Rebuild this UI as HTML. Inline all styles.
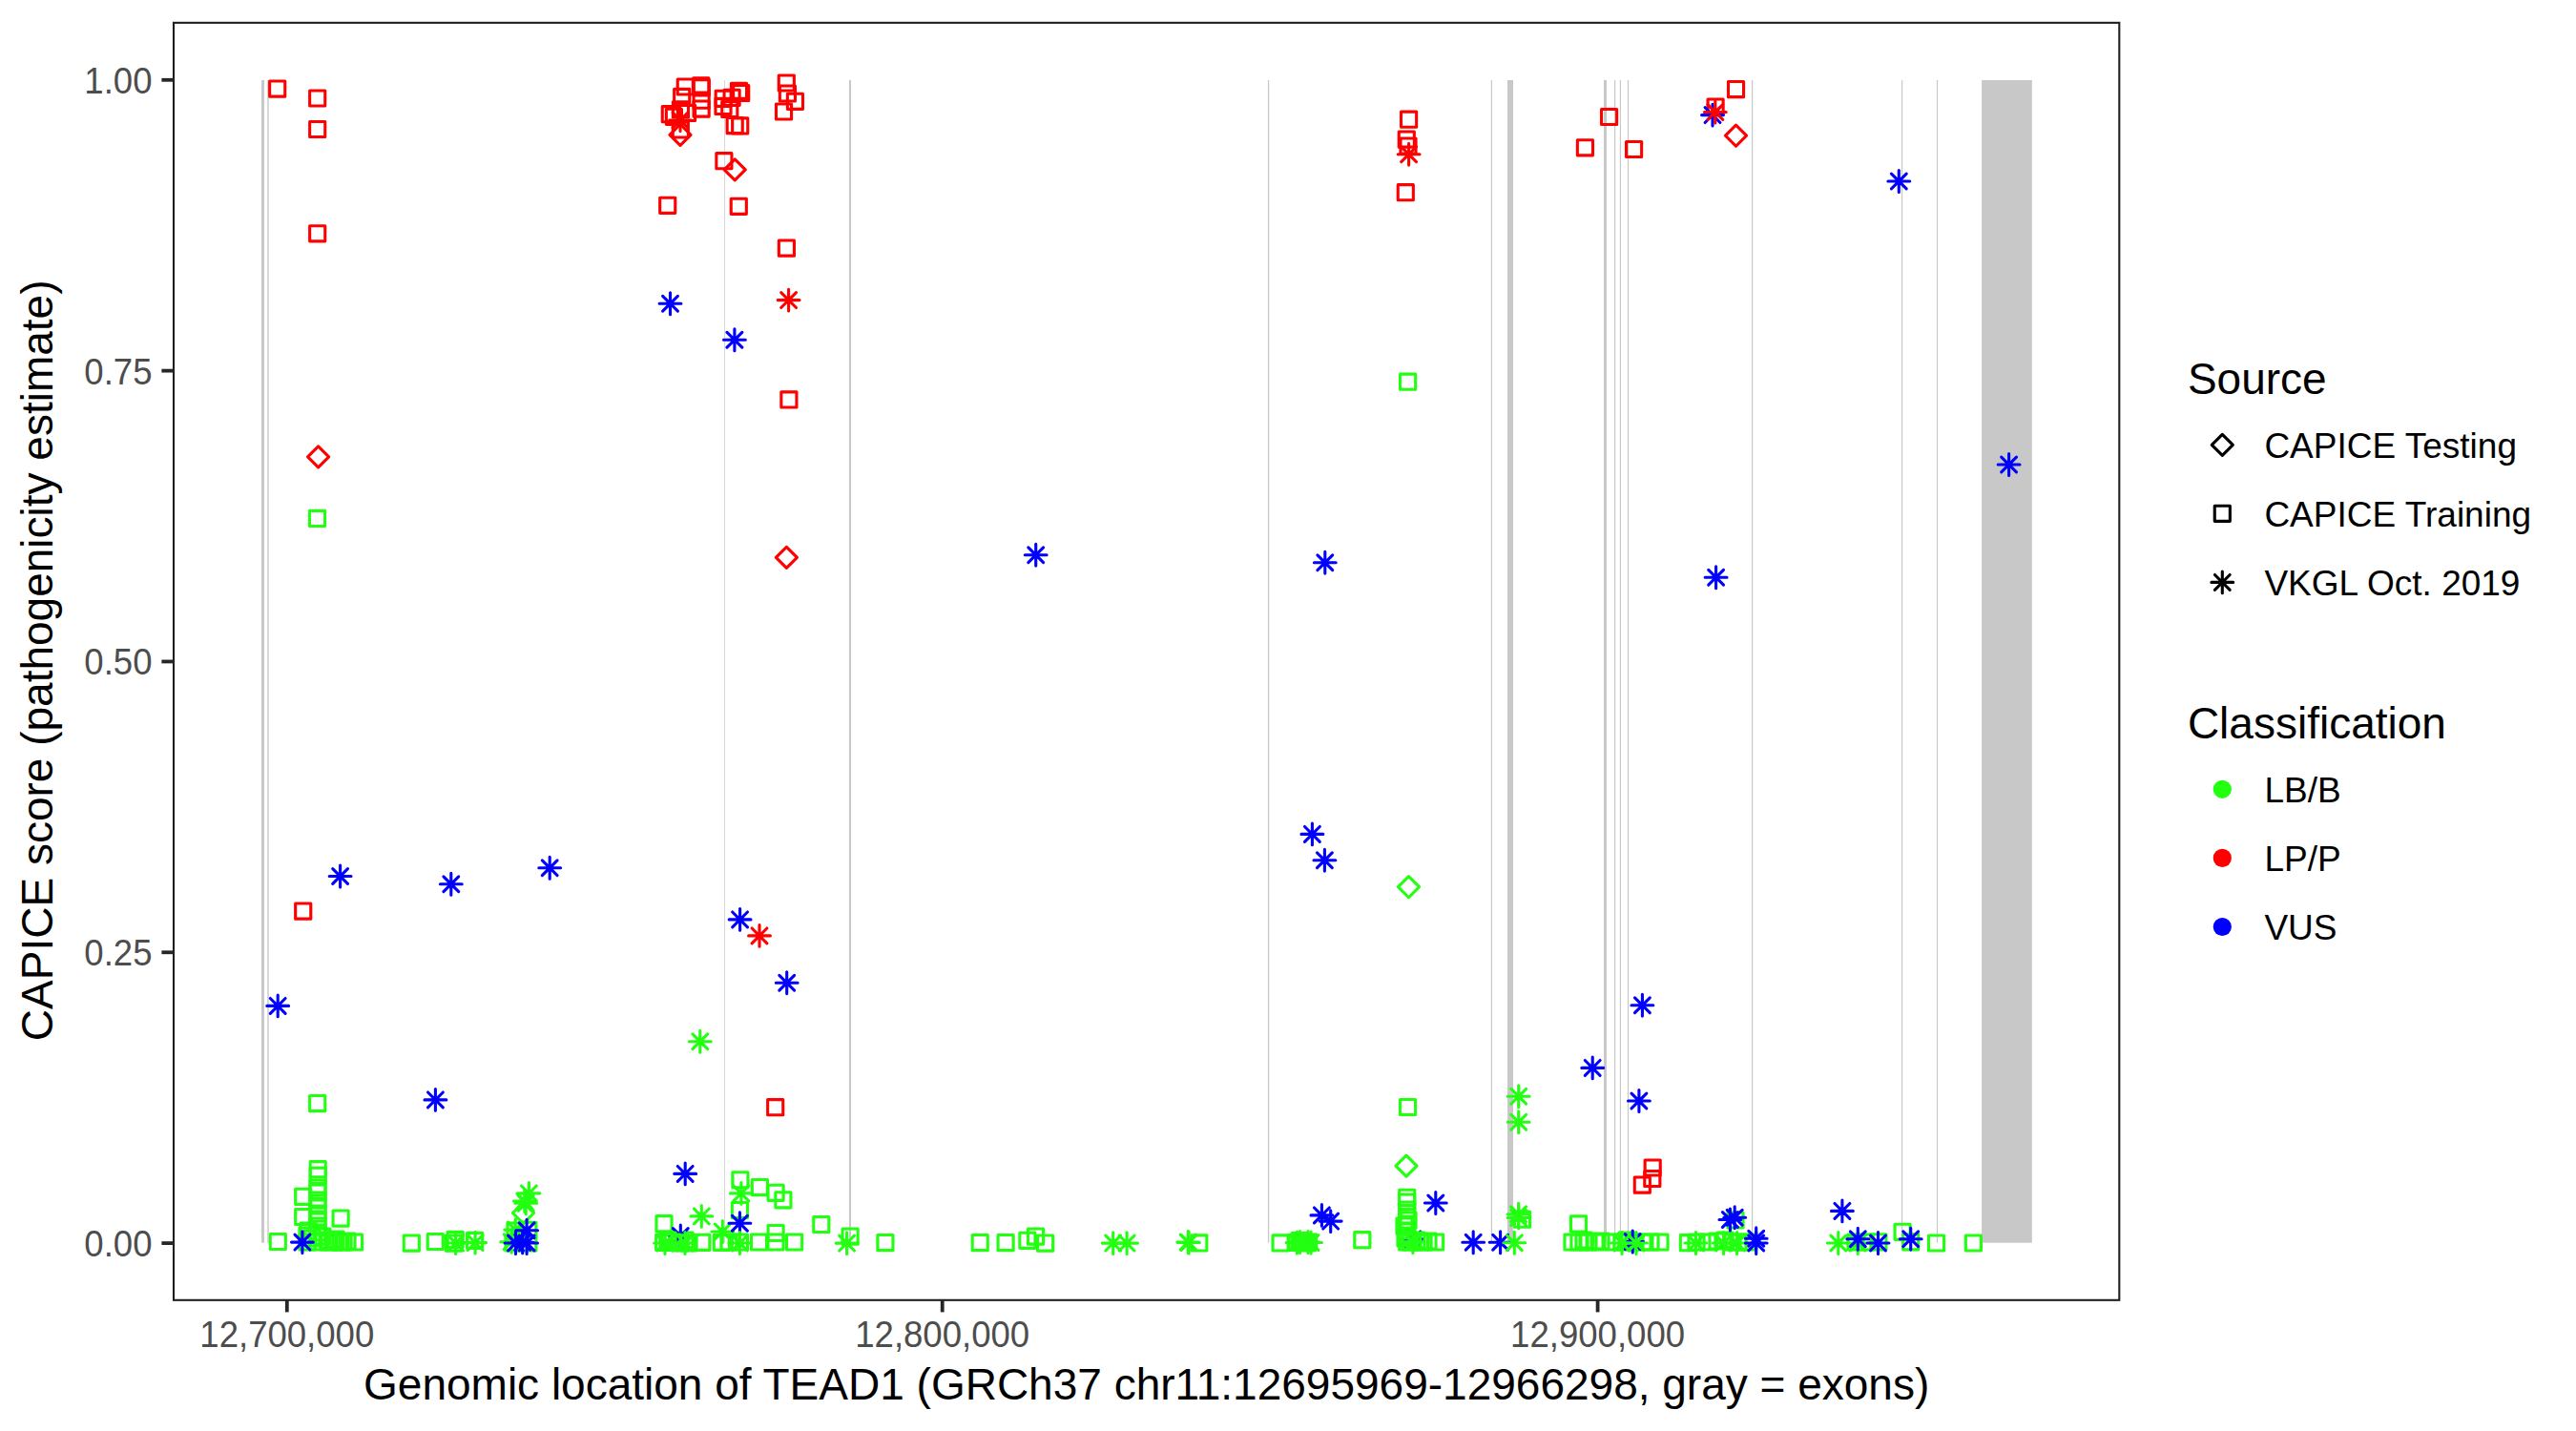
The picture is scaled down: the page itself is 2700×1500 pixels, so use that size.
<!DOCTYPE html>
<html><head><meta charset="utf-8"><style>html,body{margin:0;padding:0;background:#fff;overflow:hidden}svg{display:block}</style></head><body>
<svg width="2700" height="1500" viewBox="0 0 2700 1500">
<rect x="0" y="0" width="2700" height="1500" fill="#FFFFFF"/>
<rect x="274.00" y="84.0" width="3.00" height="1218.70" fill="#C8C8C8"/>
<rect x="280.30" y="84.0" width="1.40" height="1218.70" fill="#C8C8C8"/>
<rect x="759.05" y="84.0" width="0.70" height="1218.70" fill="#C8C8C8"/>
<rect x="889.90" y="84.0" width="2.10" height="1218.70" fill="#C8C8C8"/>
<rect x="1328.90" y="84.0" width="1.30" height="1218.70" fill="#C8C8C8"/>
<rect x="1562.80" y="84.0" width="1.20" height="1218.70" fill="#C8C8C8"/>
<rect x="1580.00" y="84.0" width="6.00" height="1218.70" fill="#C8C8C8"/>
<rect x="1681.00" y="84.0" width="3.00" height="1218.70" fill="#C8C8C8"/>
<rect x="1692.00" y="84.0" width="1.20" height="1218.70" fill="#C8C8C8"/>
<rect x="1697.80" y="84.0" width="1.20" height="1218.70" fill="#C8C8C8"/>
<rect x="1705.90" y="84.0" width="1.20" height="1218.70" fill="#C8C8C8"/>
<rect x="1836.00" y="84.0" width="1.20" height="1218.70" fill="#C8C8C8"/>
<rect x="1993.00" y="84.0" width="1.20" height="1218.70" fill="#C8C8C8"/>
<rect x="2029.90" y="84.0" width="1.20" height="1218.70" fill="#C8C8C8"/>
<rect x="2077.10" y="84.0" width="52.70" height="1218.70" fill="#C8C8C8"/>
<g fill="none" stroke-width="3.1" stroke-linejoin="round" stroke-linecap="round">
<rect x="282.65" y="85.05" width="16.10" height="16.10" stroke="#FF0000"/>
<rect x="324.65" y="94.95" width="16.10" height="16.10" stroke="#FF0000"/>
<rect x="324.65" y="127.45" width="16.10" height="16.10" stroke="#FF0000"/>
<rect x="324.65" y="236.75" width="16.10" height="16.10" stroke="#FF0000"/>
<rect x="710.25" y="82.95" width="16.10" height="16.10" stroke="#FF0000"/>
<rect x="726.75" y="81.75" width="16.10" height="16.10" stroke="#FF0000"/>
<rect x="727.25" y="83.75" width="16.10" height="16.10" stroke="#FF0000"/>
<rect x="706.65" y="93.35" width="16.10" height="16.10" stroke="#FF0000"/>
<rect x="727.05" y="97.15" width="16.10" height="16.10" stroke="#FF0000"/>
<rect x="727.05" y="106.05" width="16.10" height="16.10" stroke="#FF0000"/>
<rect x="694.25" y="111.65" width="16.10" height="16.10" stroke="#FF0000"/>
<rect x="698.35" y="114.25" width="16.10" height="16.10" stroke="#FF0000"/>
<rect x="705.35" y="106.85" width="16.10" height="16.10" stroke="#FF0000"/>
<rect x="712.45" y="110.35" width="16.10" height="16.10" stroke="#FF0000"/>
<rect x="705.25" y="127.95" width="16.10" height="16.10" stroke="#FF0000"/>
<path d="M705.10 118.10L720.90 133.90M705.10 133.90L720.90 118.10M701.60 126.00L724.40 126.00M713.00 114.60L713.00 137.40" stroke="#FF0000"/>
<path d="M701.95 141.30L713.00 130.25L724.05 141.30L713.00 152.35Z" stroke="#FF0000"/>
<rect x="766.45" y="87.25" width="16.10" height="16.10" stroke="#FF0000"/>
<rect x="768.65" y="89.45" width="16.10" height="16.10" stroke="#FF0000"/>
<rect x="750.15" y="95.25" width="16.10" height="16.10" stroke="#FF0000"/>
<rect x="759.05" y="94.25" width="16.10" height="16.10" stroke="#FF0000"/>
<rect x="749.95" y="103.35" width="16.10" height="16.10" stroke="#FF0000"/>
<rect x="756.75" y="106.35" width="16.10" height="16.10" stroke="#FF0000"/>
<rect x="762.15" y="123.55" width="16.10" height="16.10" stroke="#FF0000"/>
<rect x="767.65" y="123.85" width="16.10" height="16.10" stroke="#FF0000"/>
<rect x="816.25" y="78.95" width="16.10" height="16.10" stroke="#FF0000"/>
<rect x="817.35" y="89.95" width="16.10" height="16.10" stroke="#FF0000"/>
<rect x="825.35" y="98.25" width="16.10" height="16.10" stroke="#FF0000"/>
<rect x="813.45" y="108.95" width="16.10" height="16.10" stroke="#FF0000"/>
<rect x="691.65" y="207.25" width="16.10" height="16.10" stroke="#FF0000"/>
<rect x="750.85" y="160.65" width="16.10" height="16.10" stroke="#FF0000"/>
<path d="M759.15 177.90L770.20 166.85L781.25 177.90L770.20 188.95Z" stroke="#FF0000"/>
<rect x="766.25" y="208.25" width="16.10" height="16.10" stroke="#FF0000"/>
<rect x="816.35" y="252.05" width="16.10" height="16.10" stroke="#FF0000"/>
<path d="M694.60 310.40L710.40 326.20M694.60 326.20L710.40 310.40M691.10 318.30L713.90 318.30M702.50 306.90L702.50 329.70" stroke="#0000FF"/>
<path d="M818.70 306.70L834.50 322.50M818.70 322.50L834.50 306.70M815.20 314.60L838.00 314.60M826.60 303.20L826.60 326.00" stroke="#FF0000"/>
<path d="M762.00 348.40L777.80 364.20M762.00 364.20L777.80 348.40M758.50 356.30L781.30 356.30M769.90 344.90L769.90 367.70" stroke="#0000FF"/>
<rect x="818.85" y="410.85" width="16.10" height="16.10" stroke="#FF0000"/>
<path d="M813.35 584.40L824.40 573.35L835.45 584.40L824.40 595.45Z" stroke="#FF0000"/>
<path d="M322.55 478.90L333.60 467.85L344.65 478.90L333.60 489.95Z" stroke="#FF0000"/>
<rect x="324.45" y="535.35" width="16.10" height="16.10" stroke="#22FF11"/>
<path d="M348.70 910.60L364.50 926.40M348.70 926.40L364.50 910.60M345.20 918.50L368.00 918.50M356.60 907.10L356.60 929.90" stroke="#0000FF"/>
<path d="M464.90 918.90L480.70 934.70M464.90 934.70L480.70 918.90M461.40 926.80L484.20 926.80M472.80 915.40L472.80 938.20" stroke="#0000FF"/>
<path d="M568.30 901.90L584.10 917.70M568.30 917.70L584.10 901.90M564.80 909.80L587.60 909.80M576.20 898.40L576.20 921.20" stroke="#0000FF"/>
<rect x="309.65" y="947.05" width="16.10" height="16.10" stroke="#FF0000"/>
<path d="M283.30 1046.50L299.10 1062.30M283.30 1062.30L299.10 1046.50M279.80 1054.40L302.60 1054.40M291.20 1043.00L291.20 1065.80" stroke="#0000FF"/>
<rect x="324.65" y="1148.55" width="16.10" height="16.10" stroke="#22FF11"/>
<path d="M448.50 1145.00L464.30 1160.80M448.50 1160.80L464.30 1145.00M445.00 1152.90L467.80 1152.90M456.40 1141.50L456.40 1164.30" stroke="#0000FF"/>
<path d="M767.70 956.00L783.50 971.80M767.70 971.80L783.50 956.00M764.20 963.90L787.00 963.90M775.60 952.50L775.60 975.30" stroke="#0000FF"/>
<path d="M788.10 973.00L803.90 988.80M788.10 988.80L803.90 973.00M784.60 980.90L807.40 980.90M796.00 969.50L796.00 992.30" stroke="#FF0000"/>
<path d="M816.80 1022.30L832.60 1038.10M816.80 1038.10L832.60 1022.30M813.30 1030.20L836.10 1030.20M824.70 1018.80L824.70 1041.60" stroke="#0000FF"/>
<path d="M725.90 1083.90L741.70 1099.70M725.90 1099.70L741.70 1083.90M722.40 1091.80L745.20 1091.80M733.80 1080.40L733.80 1103.20" stroke="#22FF11"/>
<rect x="1468.55" y="117.15" width="16.10" height="16.10" stroke="#FF0000"/>
<rect x="1466.25" y="138.05" width="16.10" height="16.10" stroke="#FF0000"/>
<rect x="1467.95" y="144.95" width="16.10" height="16.10" stroke="#FF0000"/>
<path d="M1468.70 153.80L1484.50 169.60M1468.70 169.60L1484.50 153.80M1465.20 161.70L1488.00 161.70M1476.60 150.30L1476.60 173.10" stroke="#FF0000"/>
<rect x="1465.25" y="193.65" width="16.10" height="16.10" stroke="#FF0000"/>
<rect x="1467.55" y="392.15" width="16.10" height="16.10" stroke="#22FF11"/>
<path d="M1077.80 573.80L1093.60 589.60M1077.80 589.60L1093.60 573.80M1074.30 581.70L1097.10 581.70M1085.70 570.30L1085.70 593.10" stroke="#0000FF"/>
<path d="M1380.90 581.80L1396.70 597.60M1380.90 597.60L1396.70 581.80M1377.40 589.70L1400.20 589.70M1388.80 578.30L1388.80 601.10" stroke="#0000FF"/>
<path d="M1367.50 866.50L1383.30 882.30M1367.50 882.30L1383.30 866.50M1364.00 874.40L1386.80 874.40M1375.40 863.00L1375.40 885.80" stroke="#0000FF"/>
<path d="M1380.50 893.80L1396.30 909.60M1380.50 909.60L1396.30 893.80M1377.00 901.70L1399.80 901.70M1388.40 890.30L1388.40 913.10" stroke="#0000FF"/>
<path d="M1465.45 929.70L1476.50 918.65L1487.55 929.70L1476.50 940.75Z" stroke="#22FF11"/>
<rect x="1653.35" y="146.75" width="16.10" height="16.10" stroke="#FF0000"/>
<rect x="1678.55" y="114.45" width="16.10" height="16.10" stroke="#FF0000"/>
<rect x="1704.55" y="148.45" width="16.10" height="16.10" stroke="#FF0000"/>
<rect x="1790.05" y="103.95" width="16.10" height="16.10" stroke="#FF0000"/>
<rect x="1811.45" y="85.55" width="16.10" height="16.10" stroke="#FF0000"/>
<path d="M1808.45 142.20L1819.50 131.15L1830.55 142.20L1819.50 153.25Z" stroke="#FF0000"/>
<path d="M1787.10 112.70L1802.90 128.50M1787.10 128.50L1802.90 112.70M1783.60 120.60L1806.40 120.60M1795.00 109.20L1795.00 132.00" stroke="#0000FF"/>
<path d="M1789.90 109.60L1805.70 125.40M1789.90 125.40L1805.70 109.60M1786.40 117.50L1809.20 117.50M1797.80 106.10L1797.80 128.90" stroke="#FF0000"/>
<path d="M1982.40 182.10L1998.20 197.90M1982.40 197.90L1998.20 182.10M1978.90 190.00L2001.70 190.00M1990.30 178.60L1990.30 201.40" stroke="#0000FF"/>
<path d="M2097.70 479.10L2113.50 494.90M2097.70 494.90L2113.50 479.10M2094.20 487.00L2117.00 487.00M2105.60 475.60L2105.60 498.40" stroke="#0000FF"/>
<path d="M1790.70 597.40L1806.50 613.20M1790.70 613.20L1806.50 597.40M1787.20 605.30L1810.00 605.30M1798.60 593.90L1798.60 616.70" stroke="#0000FF"/>
<path d="M1713.50 1045.80L1729.30 1061.60M1713.50 1061.60L1729.30 1045.80M1710.00 1053.70L1732.80 1053.70M1721.40 1042.30L1721.40 1065.10" stroke="#0000FF"/>
<path d="M1661.30 1111.50L1677.10 1127.30M1661.30 1127.30L1677.10 1111.50M1657.80 1119.40L1680.60 1119.40M1669.20 1108.00L1669.20 1130.80" stroke="#0000FF"/>
<path d="M1710.00 1146.10L1725.80 1161.90M1710.00 1161.90L1725.80 1146.10M1706.50 1154.00L1729.30 1154.00M1717.90 1142.60L1717.90 1165.40" stroke="#0000FF"/>
<path d="M1583.80 1141.40L1599.60 1157.20M1583.80 1157.20L1599.60 1141.40M1580.30 1149.30L1603.10 1149.30M1591.70 1137.90L1591.70 1160.70" stroke="#22FF11"/>
<path d="M1583.80 1168.30L1599.60 1184.10M1583.80 1184.10L1599.60 1168.30M1580.30 1176.20L1603.10 1176.20M1591.70 1164.80L1591.70 1187.60" stroke="#22FF11"/>
<rect x="283.25" y="1293.45" width="16.10" height="16.10" stroke="#22FF11"/>
<rect x="325.15" y="1217.65" width="16.10" height="16.10" stroke="#22FF11"/>
<rect x="325.15" y="1224.25" width="16.10" height="16.10" stroke="#22FF11"/>
<rect x="324.95" y="1236.95" width="16.10" height="16.10" stroke="#22FF11"/>
<rect x="324.95" y="1241.95" width="16.10" height="16.10" stroke="#22FF11"/>
<rect x="324.95" y="1249.95" width="16.10" height="16.10" stroke="#22FF11"/>
<rect x="324.95" y="1255.95" width="16.10" height="16.10" stroke="#22FF11"/>
<rect x="324.95" y="1263.95" width="16.10" height="16.10" stroke="#22FF11"/>
<rect x="324.95" y="1269.95" width="16.10" height="16.10" stroke="#22FF11"/>
<rect x="324.95" y="1276.95" width="16.10" height="16.10" stroke="#22FF11"/>
<rect x="324.95" y="1283.95" width="16.10" height="16.10" stroke="#22FF11"/>
<rect x="324.95" y="1293.95" width="16.10" height="16.10" stroke="#22FF11"/>
<rect x="309.65" y="1246.25" width="16.10" height="16.10" stroke="#22FF11"/>
<rect x="309.65" y="1267.45" width="16.10" height="16.10" stroke="#22FF11"/>
<rect x="349.05" y="1269.05" width="16.10" height="16.10" stroke="#22FF11"/>
<rect x="313.95" y="1286.95" width="16.10" height="16.10" stroke="#22FF11"/>
<rect x="313.95" y="1293.95" width="16.10" height="16.10" stroke="#22FF11"/>
<rect x="336.95" y="1291.95" width="16.10" height="16.10" stroke="#22FF11"/>
<rect x="341.95" y="1293.95" width="16.10" height="16.10" stroke="#22FF11"/>
<rect x="351.95" y="1293.95" width="16.10" height="16.10" stroke="#22FF11"/>
<rect x="363.45" y="1293.95" width="16.10" height="16.10" stroke="#22FF11"/>
<rect x="423.25" y="1295.05" width="16.10" height="16.10" stroke="#22FF11"/>
<rect x="448.25" y="1293.45" width="16.10" height="16.10" stroke="#22FF11"/>
<rect x="469.15" y="1291.35" width="16.10" height="16.10" stroke="#22FF11"/>
<rect x="467.35" y="1295.05" width="16.10" height="16.10" stroke="#22FF11"/>
<path d="M469.70 1295.10L485.50 1310.90M469.70 1310.90L485.50 1295.10M466.20 1303.00L489.00 1303.00M477.60 1291.60L477.60 1314.40" stroke="#22FF11"/>
<rect x="489.55" y="1292.35" width="16.10" height="16.10" stroke="#22FF11"/>
<path d="M490.20 1294.70L506.00 1310.50M490.20 1310.50L506.00 1294.70M486.70 1302.60L509.50 1302.60M498.10 1291.20L498.10 1314.00" stroke="#22FF11"/>
<path d="M546.50 1243.00L562.30 1258.80M546.50 1258.80L562.30 1243.00M543.00 1250.90L565.80 1250.90M554.40 1239.50L554.40 1262.30" stroke="#22FF11"/>
<path d="M543.30 1253.40L559.10 1269.20M543.30 1269.20L559.10 1253.40M539.80 1261.30L562.60 1261.30M551.20 1249.90L551.20 1272.70" stroke="#22FF11"/>
<path d="M541.90 1251.10L557.70 1266.90M541.90 1266.90L557.70 1251.10M538.40 1259.00L561.20 1259.00M549.80 1247.60L549.80 1270.40" stroke="#22FF11"/>
<path d="M537.45 1271.50L548.50 1260.45L559.55 1271.50L548.50 1282.55Z" stroke="#22FF11"/>
<rect x="529.95" y="1294.95" width="16.10" height="16.10" stroke="#22FF11"/>
<rect x="536.95" y="1287.95" width="16.10" height="16.10" stroke="#22FF11"/>
<rect x="545.75" y="1281.25" width="16.10" height="16.10" stroke="#22FF11"/>
<rect x="545.75" y="1294.95" width="16.10" height="16.10" stroke="#22FF11"/>
<rect x="531.95" y="1281.95" width="16.10" height="16.10" stroke="#22FF11"/>
<path d="M528.20 1293.80L544.00 1309.60M528.20 1309.60L544.00 1293.80M524.70 1301.70L547.50 1301.70M536.10 1290.30L536.10 1313.10" stroke="#22FF11"/>
<path d="M532.30 1281.20L548.10 1297.00M532.30 1297.00L548.10 1281.20M528.80 1289.10L551.60 1289.10M540.20 1277.70L540.20 1300.50" stroke="#22FF11"/>
<path d="M544.20 1281.80L560.00 1297.60M544.20 1297.60L560.00 1281.80M540.70 1289.70L563.50 1289.70M552.10 1278.30L552.10 1301.10" stroke="#0000FF"/>
<path d="M544.20 1295.10L560.00 1310.90M544.20 1310.90L560.00 1295.10M540.70 1303.00L563.50 1303.00M552.10 1291.60L552.10 1314.40" stroke="#0000FF"/>
<path d="M532.60 1295.10L548.40 1310.90M532.60 1310.90L548.40 1295.10M529.10 1303.00L551.90 1303.00M540.50 1291.60L540.50 1314.40" stroke="#0000FF"/>
<path d="M539.80 1294.40L555.60 1310.20M539.80 1310.20L555.60 1294.40M536.30 1302.30L559.10 1302.30M547.70 1290.90L547.70 1313.70" stroke="#0000FF"/>
<path d="M710.30 1222.50L726.10 1238.30M710.30 1238.30L726.10 1222.50M706.80 1230.40L729.60 1230.40M718.20 1219.00L718.20 1241.80" stroke="#0000FF"/>
<path d="M727.40 1267.00L743.20 1282.80M727.40 1282.80L743.20 1267.00M723.90 1274.90L746.70 1274.90M735.30 1263.50L735.30 1286.30" stroke="#22FF11"/>
<rect x="687.95" y="1274.65" width="16.10" height="16.10" stroke="#22FF11"/>
<rect x="687.65" y="1294.25" width="16.10" height="16.10" stroke="#22FF11"/>
<rect x="693.95" y="1293.95" width="16.10" height="16.10" stroke="#22FF11"/>
<rect x="701.95" y="1293.95" width="16.10" height="16.10" stroke="#22FF11"/>
<rect x="709.95" y="1291.95" width="16.10" height="16.10" stroke="#22FF11"/>
<path d="M705.40 1287.60L721.20 1303.40M705.40 1303.40L721.20 1287.60M701.90 1295.50L724.70 1295.50M713.30 1284.10L713.30 1306.90" stroke="#0000FF"/>
<rect x="727.75" y="1294.25" width="16.10" height="16.10" stroke="#22FF11"/>
<path d="M749.40 1283.10L765.20 1298.90M749.40 1298.90L765.20 1283.10M745.90 1291.00L768.70 1291.00M757.30 1279.60L757.30 1302.40" stroke="#22FF11"/>
<rect x="748.25" y="1294.25" width="16.10" height="16.10" stroke="#22FF11"/>
<rect x="755.95" y="1293.95" width="16.10" height="16.10" stroke="#22FF11"/>
<rect x="767.85" y="1228.75" width="16.10" height="16.10" stroke="#22FF11"/>
<path d="M769.00 1243.00L784.80 1258.80M769.00 1258.80L784.80 1243.00M765.50 1250.90L788.30 1250.90M776.90 1239.50L776.90 1262.30" stroke="#22FF11"/>
<rect x="767.35" y="1260.55" width="16.10" height="16.10" stroke="#22FF11"/>
<rect x="788.35" y="1236.55" width="16.10" height="16.10" stroke="#22FF11"/>
<rect x="805.05" y="1242.25" width="16.10" height="16.10" stroke="#22FF11"/>
<rect x="812.85" y="1249.75" width="16.10" height="16.10" stroke="#22FF11"/>
<path d="M767.50 1274.40L783.30 1290.20M767.50 1290.20L783.30 1274.40M764.00 1282.30L786.80 1282.30M775.40 1270.90L775.40 1293.70" stroke="#0000FF"/>
<path d="M767.50 1295.10L783.30 1310.90M767.50 1310.90L783.30 1295.10M764.00 1303.00L786.80 1303.00M775.40 1291.60L775.40 1314.40" stroke="#22FF11"/>
<rect x="767.35" y="1293.95" width="16.10" height="16.10" stroke="#22FF11"/>
<rect x="787.45" y="1293.95" width="16.10" height="16.10" stroke="#22FF11"/>
<rect x="805.05" y="1284.45" width="16.10" height="16.10" stroke="#22FF11"/>
<rect x="804.95" y="1293.95" width="16.10" height="16.10" stroke="#22FF11"/>
<rect x="824.55" y="1293.95" width="16.10" height="16.10" stroke="#22FF11"/>
<rect x="852.75" y="1275.45" width="16.10" height="16.10" stroke="#22FF11"/>
<rect x="883.05" y="1288.05" width="16.10" height="16.10" stroke="#22FF11"/>
<path d="M879.70 1295.20L895.50 1311.00M879.70 1311.00L895.50 1295.20M876.20 1303.10L899.00 1303.10M887.60 1291.70L887.60 1314.50" stroke="#22FF11"/>
<rect x="919.85" y="1294.55" width="16.10" height="16.10" stroke="#22FF11"/>
<rect x="1019.15" y="1294.55" width="16.10" height="16.10" stroke="#22FF11"/>
<rect x="1046.05" y="1294.55" width="16.10" height="16.10" stroke="#22FF11"/>
<rect x="1068.85" y="1292.25" width="16.10" height="16.10" stroke="#22FF11"/>
<rect x="1077.45" y="1288.05" width="16.10" height="16.10" stroke="#22FF11"/>
<rect x="1087.55" y="1295.05" width="16.10" height="16.10" stroke="#22FF11"/>
<path d="M1158.80 1295.20L1174.60 1311.00M1158.80 1311.00L1174.60 1295.20M1155.30 1303.10L1178.10 1303.10M1166.70 1291.70L1166.70 1314.50" stroke="#22FF11"/>
<path d="M1173.20 1295.20L1189.00 1311.00M1173.20 1311.00L1189.00 1295.20M1169.70 1303.10L1192.50 1303.10M1181.10 1291.70L1181.10 1314.50" stroke="#22FF11"/>
<path d="M1237.30 1294.10L1253.10 1309.90M1237.30 1309.90L1253.10 1294.10M1233.80 1302.00L1256.60 1302.00M1245.20 1290.60L1245.20 1313.40" stroke="#22FF11"/>
<path d="M1238.10 1294.60L1253.90 1310.40M1238.10 1310.40L1253.90 1294.60M1234.60 1302.50L1257.40 1302.50M1246.00 1291.10L1246.00 1313.90" stroke="#22FF11"/>
<rect x="1248.75" y="1294.85" width="16.10" height="16.10" stroke="#22FF11"/>
<rect x="1334.05" y="1294.85" width="16.10" height="16.10" stroke="#22FF11"/>
<rect x="1350.85" y="1294.45" width="16.10" height="16.10" stroke="#22FF11"/>
<rect x="1356.95" y="1294.45" width="16.10" height="16.10" stroke="#22FF11"/>
<rect x="1363.45" y="1293.95" width="16.10" height="16.10" stroke="#22FF11"/>
<path d="M1354.70 1294.10L1370.50 1309.90M1354.70 1309.90L1370.50 1294.10M1351.20 1302.00L1374.00 1302.00M1362.60 1290.60L1362.60 1313.40" stroke="#22FF11"/>
<path d="M1363.10 1294.10L1378.90 1309.90M1363.10 1309.90L1378.90 1294.10M1359.60 1302.00L1382.40 1302.00M1371.00 1290.60L1371.00 1313.40" stroke="#22FF11"/>
<path d="M1377.50 1266.00L1393.30 1281.80M1377.50 1281.80L1393.30 1266.00M1374.00 1273.90L1396.80 1273.90M1385.40 1262.50L1385.40 1285.30" stroke="#0000FF"/>
<path d="M1386.80 1272.20L1402.60 1288.00M1386.80 1288.00L1402.60 1272.20M1383.30 1280.10L1406.10 1280.10M1394.70 1268.70L1394.70 1291.50" stroke="#0000FF"/>
<rect x="1419.75" y="1291.65" width="16.10" height="16.10" stroke="#22FF11"/>
<rect x="1467.45" y="1152.45" width="16.10" height="16.10" stroke="#22FF11"/>
<path d="M1473.00 1291.00L1488.80 1306.80M1473.00 1306.80L1488.80 1291.00M1469.50 1298.90L1492.30 1298.90M1480.90 1287.50L1480.90 1310.30" stroke="#0000FF"/>
<path d="M1462.95 1222.10L1474.00 1211.05L1485.05 1222.10L1474.00 1233.15Z" stroke="#22FF11"/>
<rect x="1466.65" y="1247.25" width="16.10" height="16.10" stroke="#22FF11"/>
<rect x="1466.65" y="1251.95" width="16.10" height="16.10" stroke="#22FF11"/>
<rect x="1466.65" y="1259.95" width="16.10" height="16.10" stroke="#22FF11"/>
<rect x="1466.65" y="1266.95" width="16.10" height="16.10" stroke="#22FF11"/>
<rect x="1466.65" y="1274.95" width="16.10" height="16.10" stroke="#22FF11"/>
<rect x="1466.65" y="1281.95" width="16.10" height="16.10" stroke="#22FF11"/>
<rect x="1466.65" y="1287.95" width="16.10" height="16.10" stroke="#22FF11"/>
<rect x="1466.65" y="1293.95" width="16.10" height="16.10" stroke="#22FF11"/>
<path d="M1496.90 1253.10L1512.70 1268.90M1496.90 1268.90L1512.70 1253.10M1493.40 1261.00L1516.20 1261.00M1504.80 1249.60L1504.80 1272.40" stroke="#0000FF"/>
<rect x="1480.95" y="1293.95" width="16.10" height="16.10" stroke="#22FF11"/>
<rect x="1496.55" y="1293.95" width="16.10" height="16.10" stroke="#22FF11"/>
<path d="M1473.00 1294.10L1488.80 1309.90M1473.00 1309.90L1488.80 1294.10M1469.50 1302.00L1492.30 1302.00M1480.90 1290.60L1480.90 1313.40" stroke="#22FF11"/>
<path d="M1536.30 1294.40L1552.10 1310.20M1536.30 1310.20L1552.10 1294.40M1532.80 1302.30L1555.60 1302.30M1544.20 1290.90L1544.20 1313.70" stroke="#0000FF"/>
<path d="M1564.70 1294.40L1580.50 1310.20M1564.70 1310.20L1580.50 1294.40M1561.20 1302.30L1584.00 1302.30M1572.60 1290.90L1572.60 1313.70" stroke="#0000FF"/>
<path d="M1579.40 1294.90L1595.20 1310.70M1579.40 1310.70L1595.20 1294.90M1575.90 1302.80L1598.70 1302.80M1587.30 1291.40L1587.30 1314.20" stroke="#22FF11"/>
<path d="M1583.70 1264.90L1599.50 1280.70M1583.70 1280.70L1599.50 1264.90M1580.20 1272.80L1603.00 1272.80M1591.60 1261.40L1591.60 1284.20" stroke="#22FF11"/>
<rect x="1587.45" y="1270.15" width="16.10" height="16.10" stroke="#22FF11"/>
<path d="M1583.80 1268.50L1599.60 1284.30M1583.80 1284.30L1599.60 1268.50M1580.30 1276.40L1603.10 1276.40M1591.70 1265.00L1591.70 1287.80" stroke="#22FF11"/>
<rect x="1646.45" y="1274.85" width="16.10" height="16.10" stroke="#22FF11"/>
<rect x="1639.95" y="1293.95" width="16.10" height="16.10" stroke="#22FF11"/>
<rect x="1646.95" y="1293.95" width="16.10" height="16.10" stroke="#22FF11"/>
<rect x="1651.95" y="1291.95" width="16.10" height="16.10" stroke="#22FF11"/>
<rect x="1656.95" y="1293.95" width="16.10" height="16.10" stroke="#22FF11"/>
<rect x="1663.95" y="1293.95" width="16.10" height="16.10" stroke="#22FF11"/>
<rect x="1669.95" y="1292.95" width="16.10" height="16.10" stroke="#22FF11"/>
<rect x="1681.95" y="1293.95" width="16.10" height="16.10" stroke="#22FF11"/>
<rect x="1691.95" y="1293.95" width="16.10" height="16.10" stroke="#22FF11"/>
<rect x="1696.95" y="1291.95" width="16.10" height="16.10" stroke="#22FF11"/>
<rect x="1703.95" y="1293.95" width="16.10" height="16.10" stroke="#22FF11"/>
<rect x="1713.95" y="1293.95" width="16.10" height="16.10" stroke="#22FF11"/>
<rect x="1721.95" y="1293.95" width="16.10" height="16.10" stroke="#22FF11"/>
<rect x="1731.95" y="1293.95" width="16.10" height="16.10" stroke="#22FF11"/>
<path d="M1703.30 1293.60L1719.10 1309.40M1703.30 1309.40L1719.10 1293.60M1699.80 1301.50L1722.60 1301.50M1711.20 1290.10L1711.20 1312.90" stroke="#0000FF"/>
<path d="M1692.10 1295.10L1707.90 1310.90M1692.10 1310.90L1707.90 1295.10M1688.60 1303.00L1711.40 1303.00M1700.00 1291.60L1700.00 1314.40" stroke="#22FF11"/>
<path d="M1707.10 1295.10L1722.90 1310.90M1707.10 1310.90L1722.90 1295.10M1703.60 1303.00L1726.40 1303.00M1715.00 1291.60L1715.00 1314.40" stroke="#22FF11"/>
<rect x="1713.25" y="1234.05" width="16.10" height="16.10" stroke="#FF0000"/>
<rect x="1723.75" y="1227.45" width="16.10" height="16.10" stroke="#FF0000"/>
<rect x="1724.15" y="1215.95" width="16.10" height="16.10" stroke="#FF0000"/>
<rect x="1761.35" y="1294.65" width="16.10" height="16.10" stroke="#22FF11"/>
<rect x="1769.95" y="1293.95" width="16.10" height="16.10" stroke="#22FF11"/>
<rect x="1781.95" y="1293.95" width="16.10" height="16.10" stroke="#22FF11"/>
<rect x="1791.95" y="1292.95" width="16.10" height="16.10" stroke="#22FF11"/>
<rect x="1799.95" y="1291.95" width="16.10" height="16.10" stroke="#22FF11"/>
<rect x="1806.95" y="1293.95" width="16.10" height="16.10" stroke="#22FF11"/>
<rect x="1813.95" y="1293.95" width="16.10" height="16.10" stroke="#22FF11"/>
<rect x="1823.95" y="1293.95" width="16.10" height="16.10" stroke="#22FF11"/>
<rect x="1810.95" y="1270.95" width="16.10" height="16.10" stroke="#22FF11"/>
<path d="M1769.60 1295.10L1785.40 1310.90M1769.60 1310.90L1785.40 1295.10M1766.10 1303.00L1788.90 1303.00M1777.50 1291.60L1777.50 1314.40" stroke="#22FF11"/>
<path d="M1798.70 1295.10L1814.50 1310.90M1798.70 1310.90L1814.50 1295.10M1795.20 1303.00L1818.00 1303.00M1806.60 1291.60L1806.60 1314.40" stroke="#22FF11"/>
<path d="M1812.70 1295.10L1828.50 1310.90M1812.70 1310.90L1828.50 1295.10M1809.20 1303.00L1832.00 1303.00M1820.60 1291.60L1820.60 1314.40" stroke="#22FF11"/>
<path d="M1805.50 1270.60L1821.30 1286.40M1805.50 1286.40L1821.30 1270.60M1802.00 1278.50L1824.80 1278.50M1813.40 1267.10L1813.40 1289.90" stroke="#0000FF"/>
<path d="M1810.30 1268.30L1826.10 1284.10M1810.30 1284.10L1826.10 1268.30M1806.80 1276.20L1829.60 1276.20M1818.20 1264.80L1818.20 1287.60" stroke="#0000FF"/>
<path d="M1832.80 1290.40L1848.60 1306.20M1832.80 1306.20L1848.60 1290.40M1829.30 1298.30L1852.10 1298.30M1840.70 1286.90L1840.70 1309.70" stroke="#0000FF"/>
<path d="M1832.80 1295.10L1848.60 1310.90M1832.80 1310.90L1848.60 1295.10M1829.30 1303.00L1852.10 1303.00M1840.70 1291.60L1840.70 1314.40" stroke="#0000FF"/>
<path d="M1923.00 1261.50L1938.80 1277.30M1923.00 1277.30L1938.80 1261.50M1919.50 1269.40L1942.30 1269.40M1930.90 1258.00L1930.90 1280.80" stroke="#0000FF"/>
<path d="M1918.90 1295.10L1934.70 1310.90M1918.90 1310.90L1934.70 1295.10M1915.40 1303.00L1938.20 1303.00M1926.80 1291.60L1926.80 1314.40" stroke="#22FF11"/>
<rect x="1936.95" y="1293.95" width="16.10" height="16.10" stroke="#22FF11"/>
<rect x="1946.95" y="1293.95" width="16.10" height="16.10" stroke="#22FF11"/>
<rect x="1960.85" y="1293.75" width="16.10" height="16.10" stroke="#22FF11"/>
<path d="M1939.30 1295.10L1955.10 1310.90M1939.30 1310.90L1955.10 1295.10M1935.80 1303.00L1958.60 1303.00M1947.20 1291.60L1947.20 1314.40" stroke="#22FF11"/>
<path d="M1939.40 1290.80L1955.20 1306.60M1939.40 1306.60L1955.20 1290.80M1935.90 1298.70L1958.70 1298.70M1947.30 1287.30L1947.30 1310.10" stroke="#0000FF"/>
<path d="M1960.60 1295.10L1976.40 1310.90M1960.60 1310.90L1976.40 1295.10M1957.10 1303.00L1979.90 1303.00M1968.50 1291.60L1968.50 1314.40" stroke="#0000FF"/>
<rect x="1986.05" y="1283.25" width="16.10" height="16.10" stroke="#22FF11"/>
<rect x="1994.65" y="1293.75" width="16.10" height="16.10" stroke="#22FF11"/>
<path d="M1994.80 1290.80L2010.60 1306.60M1994.80 1306.60L2010.60 1290.80M1991.30 1298.70L2014.10 1298.70M2002.70 1287.30L2002.70 1310.10" stroke="#0000FF"/>
<rect x="2021.45" y="1294.95" width="16.10" height="16.10" stroke="#22FF11"/>
<rect x="2060.35" y="1294.95" width="16.10" height="16.10" stroke="#22FF11"/>
<rect x="314.95" y="1281.95" width="16.10" height="16.10" stroke="#22FF11"/>
<rect x="318.95" y="1289.95" width="16.10" height="16.10" stroke="#22FF11"/>
<rect x="329.95" y="1287.95" width="16.10" height="16.10" stroke="#22FF11"/>
<rect x="335.95" y="1293.95" width="16.10" height="16.10" stroke="#22FF11"/>
<rect x="343.95" y="1290.95" width="16.10" height="16.10" stroke="#22FF11"/>
<rect x="348.95" y="1293.95" width="16.10" height="16.10" stroke="#22FF11"/>
<rect x="355.95" y="1292.95" width="16.10" height="16.10" stroke="#22FF11"/>
<rect x="804.65" y="1152.65" width="16.10" height="16.10" stroke="#FF0000"/>
<rect x="691.95" y="1291.95" width="16.10" height="16.10" stroke="#22FF11"/>
<rect x="696.95" y="1293.95" width="16.10" height="16.10" stroke="#22FF11"/>
<rect x="704.95" y="1294.95" width="16.10" height="16.10" stroke="#22FF11"/>
<rect x="713.95" y="1294.95" width="16.10" height="16.10" stroke="#22FF11"/>
<path d="M689.10 1295.10L704.90 1310.90M689.10 1310.90L704.90 1295.10M685.60 1303.00L708.40 1303.00M697.00 1291.60L697.00 1314.40" stroke="#22FF11"/>
<path d="M710.10 1295.10L725.90 1310.90M710.10 1310.90L725.90 1295.10M706.60 1303.00L729.40 1303.00M718.00 1291.60L718.00 1314.40" stroke="#22FF11"/>
<rect x="1464.95" y="1289.95" width="16.10" height="16.10" stroke="#22FF11"/>
<rect x="1469.95" y="1293.95" width="16.10" height="16.10" stroke="#22FF11"/>
<rect x="1476.95" y="1291.95" width="16.10" height="16.10" stroke="#22FF11"/>
<rect x="1483.95" y="1293.95" width="16.10" height="16.10" stroke="#22FF11"/>
<rect x="1488.95" y="1292.95" width="16.10" height="16.10" stroke="#22FF11"/>
<rect x="1463.95" y="1276.95" width="16.10" height="16.10" stroke="#22FF11"/>
<rect x="1467.95" y="1270.95" width="16.10" height="16.10" stroke="#22FF11"/>
<path d="M309.00 1294.20L324.80 1310.00M309.00 1310.00L324.80 1294.20M305.50 1302.10L328.30 1302.10M316.90 1290.70L316.90 1313.50" stroke="#0000FF"/>
<path d="M1351.60 1294.60L1367.40 1310.40M1351.60 1310.40L1367.40 1294.60M1348.10 1302.50L1370.90 1302.50M1359.50 1291.10L1359.50 1313.90" stroke="#22FF11"/>
<path d="M1366.10 1294.60L1381.90 1310.40M1366.10 1310.40L1381.90 1294.60M1362.60 1302.50L1385.40 1302.50M1374.00 1291.10L1374.00 1313.90" stroke="#22FF11"/>
<rect x="1353.95" y="1292.45" width="16.10" height="16.10" stroke="#22FF11"/>
<rect x="1361.95" y="1294.95" width="16.10" height="16.10" stroke="#22FF11"/>
</g>
<rect x="182.0" y="23.85" width="2039.30" height="1338.95" fill="none" stroke="#1F1F1F" stroke-width="2.1"/>
<line x1="169.40" y1="1303.10" x2="182.00" y2="1303.10" stroke="#262626" stroke-width="3.8"/>
<text x="159.5" y="1317.10" text-anchor="end" textLength="71.15" lengthAdjust="spacingAndGlyphs" style="font-family:&quot;Liberation Sans&quot;,sans-serif;font-size:38px" fill="#4D4D4D">0.00</text>
<line x1="169.40" y1="998.27" x2="182.00" y2="998.27" stroke="#262626" stroke-width="3.8"/>
<text x="159.5" y="1012.27" text-anchor="end" textLength="71.15" lengthAdjust="spacingAndGlyphs" style="font-family:&quot;Liberation Sans&quot;,sans-serif;font-size:38px" fill="#4D4D4D">0.25</text>
<line x1="169.40" y1="693.45" x2="182.00" y2="693.45" stroke="#262626" stroke-width="3.8"/>
<text x="159.5" y="707.45" text-anchor="end" textLength="71.15" lengthAdjust="spacingAndGlyphs" style="font-family:&quot;Liberation Sans&quot;,sans-serif;font-size:38px" fill="#4D4D4D">0.50</text>
<line x1="169.40" y1="388.62" x2="182.00" y2="388.62" stroke="#262626" stroke-width="3.8"/>
<text x="159.5" y="402.62" text-anchor="end" textLength="71.15" lengthAdjust="spacingAndGlyphs" style="font-family:&quot;Liberation Sans&quot;,sans-serif;font-size:38px" fill="#4D4D4D">0.75</text>
<line x1="169.40" y1="83.80" x2="182.00" y2="83.80" stroke="#262626" stroke-width="3.8"/>
<text x="159.5" y="97.80" text-anchor="end" textLength="71.15" lengthAdjust="spacingAndGlyphs" style="font-family:&quot;Liberation Sans&quot;,sans-serif;font-size:38px" fill="#4D4D4D">1.00</text>
<line x1="300.80" y1="1362.80" x2="300.80" y2="1375.40" stroke="#262626" stroke-width="3.8"/>
<text x="300.80" y="1412.2" text-anchor="middle" textLength="182.96" lengthAdjust="spacingAndGlyphs" style="font-family:&quot;Liberation Sans&quot;,sans-serif;font-size:38px" fill="#4D4D4D">12,700,000</text>
<line x1="987.70" y1="1362.80" x2="987.70" y2="1375.40" stroke="#262626" stroke-width="3.8"/>
<text x="987.70" y="1412.2" text-anchor="middle" textLength="182.96" lengthAdjust="spacingAndGlyphs" style="font-family:&quot;Liberation Sans&quot;,sans-serif;font-size:38px" fill="#4D4D4D">12,800,000</text>
<line x1="1674.60" y1="1362.80" x2="1674.60" y2="1375.40" stroke="#262626" stroke-width="3.8"/>
<text x="1674.60" y="1412.2" text-anchor="middle" textLength="182.96" lengthAdjust="spacingAndGlyphs" style="font-family:&quot;Liberation Sans&quot;,sans-serif;font-size:38px" fill="#4D4D4D">12,900,000</text>
<text x="1201.65" y="1466.9" text-anchor="middle" style="font-family:&quot;Liberation Sans&quot;,sans-serif;font-size:46px" fill="#000000">Genomic location of TEAD1 (GRCh37 chr11:12695969-12966298, gray = exons)</text>
<text transform="translate(54.8,692.32) rotate(-90)" x="0" y="0" text-anchor="middle" style="font-family:&quot;Liberation Sans&quot;,sans-serif;font-size:46px" fill="#000000">CAPICE score (pathogenicity estimate)</text>
<text x="2292.9" y="412.9" style="font-family:&quot;Liberation Sans&quot;,sans-serif;font-size:46px" fill="#000000">Source</text>
<g fill="none" stroke-width="3.1" stroke-linejoin="round" stroke-linecap="round"><path d="M2318.25 466.40L2329.30 455.35L2340.35 466.40L2329.30 477.45Z" stroke="#000000"/></g>
<text x="2373.4" y="479.90" style="font-family:&quot;Liberation Sans&quot;,sans-serif;font-size:37px" fill="#000000">CAPICE Testing</text>
<g fill="none" stroke-width="3.1" stroke-linejoin="round" stroke-linecap="round"><rect x="2321.25" y="530.25" width="16.10" height="16.10" stroke="#000000"/></g>
<text x="2373.4" y="551.80" style="font-family:&quot;Liberation Sans&quot;,sans-serif;font-size:37px" fill="#000000">CAPICE Training</text>
<g fill="none" stroke-width="3.1" stroke-linejoin="round" stroke-linecap="round"><path d="M2321.40 602.50L2337.20 618.30M2321.40 618.30L2337.20 602.50M2317.90 610.40L2340.70 610.40M2329.30 599.00L2329.30 621.80" stroke="#000000"/></g>
<text x="2373.4" y="623.90" style="font-family:&quot;Liberation Sans&quot;,sans-serif;font-size:37px" fill="#000000">VKGL Oct. 2019</text>
<text x="2292.9" y="774.4" style="font-family:&quot;Liberation Sans&quot;,sans-serif;font-size:46px" fill="#000000">Classification</text>
<circle cx="2329.30" cy="827.30" r="9.6" fill="#22FF11" stroke="none"/>
<text x="2373.4" y="840.80" style="font-family:&quot;Liberation Sans&quot;,sans-serif;font-size:37px" fill="#000000">LB/B</text>
<circle cx="2329.30" cy="899.40" r="9.6" fill="#FF0000" stroke="none"/>
<text x="2373.4" y="912.90" style="font-family:&quot;Liberation Sans&quot;,sans-serif;font-size:37px" fill="#000000">LP/P</text>
<circle cx="2329.30" cy="971.50" r="9.6" fill="#0000FF" stroke="none"/>
<text x="2373.4" y="985.00" style="font-family:&quot;Liberation Sans&quot;,sans-serif;font-size:37px" fill="#000000">VUS</text>
</svg>
</body></html>
